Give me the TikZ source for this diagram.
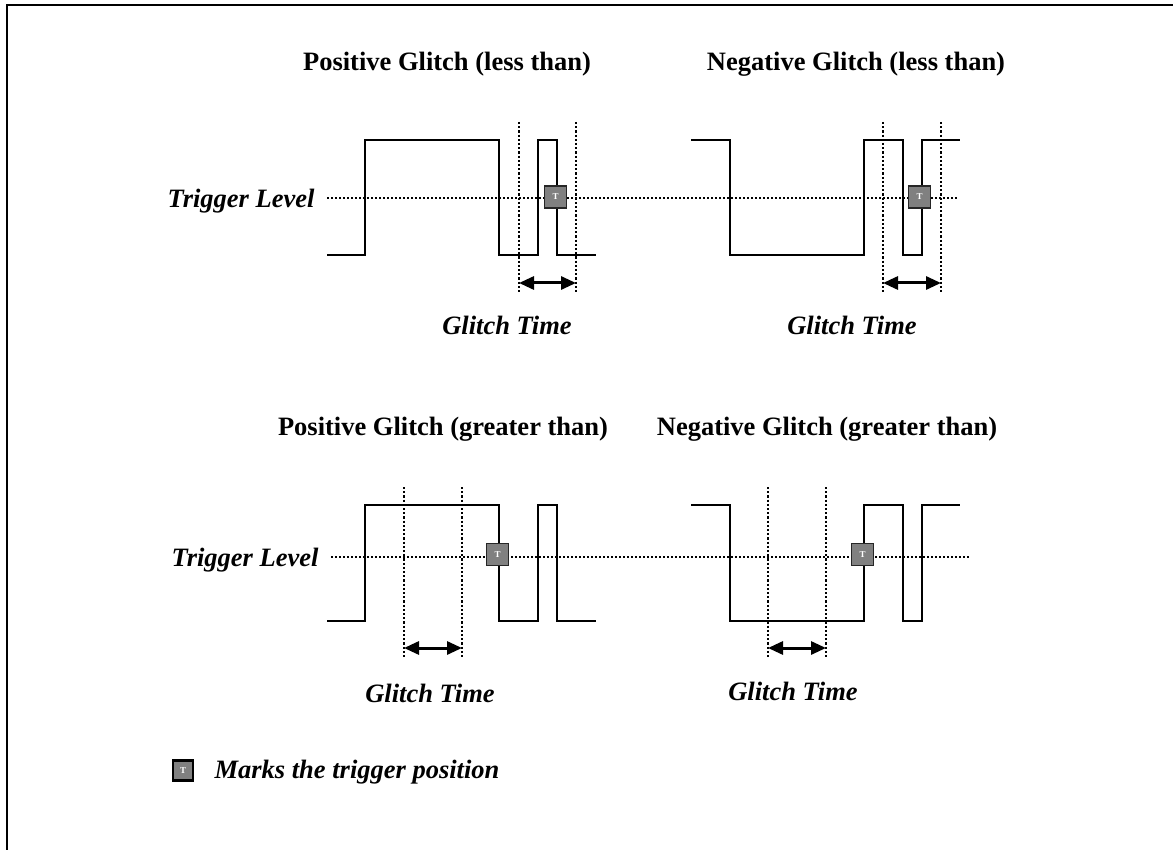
\documentclass[tikz,border=0pt]{standalone}
\usepackage{fontspec}
\setmainfont{Liberation Serif}
\usetikzlibrary{arrows.meta}
\begin{document}
\begin{tikzpicture}[x=1pt,y=-1pt,
  wave/.style={line width=2.2pt,line join=miter},
  level/.style={line width=1.8pt,dash pattern=on 1.8pt off 2.2pt},
  gate/.style={line width=2.2pt,dash pattern=on 2.2pt off 2pt},
  span/.style={line width=3pt,{Triangle[length=15pt,width=13pt]}-{Triangle[length=15pt,width=13pt]}},
  trig/.style={draw=black!85,line width=1.6pt,fill=black!50,minimum size=22pt,inner sep=0pt,
    text=white,font=\fontsize{9}{9}\selectfont\bfseries},
  title/.style={font=\fontsize{26.5}{30}\selectfont\bfseries},
  note/.style={font=\fontsize{26.5}{30}\selectfont\bfseries\itshape}]
\useasboundingbox (0,0) rectangle (1173,850);
\draw[line width=2.5pt] (7,850) -- (7,5) -- (1173,5);
% titles
\node[title] (pl) at (447,64) {Positive Glitch (less than)};
\node[title] (nl) at (856,64) {Negative Glitch (less than)};
\node[title] (pg) at (443,429) {Positive Glitch (greater than)};
\node[title] (ng) at (827,429) {Negative Glitch (greater than)};
% trigger levels
\node[note,anchor=east] (lvl1) at (318,201) {Trigger Level};
\node[note,anchor=east] (lvl2) at (322,560) {Trigger Level};
\coordinate (l1a) at (327,198);
\coordinate (l1b) at (958,198);
\coordinate (l2a) at (331,557);
\coordinate (l2b) at (970,557);
\draw[level] (l1a) -- (l1b);
\draw[level] (l2a) -- (l2b);
% top row waves
\draw[wave] (327,255) -- (365,255) -- (365,140) -- (499,140) -- (499,255) -- (538,255) -- (538,140) -- (557,140) -- (557,255) -- (596,255);
\draw[wave] (691,140) -- (730,140) -- (730,255) -- (864,255) -- (864,140) -- (903,140) -- (903,255) -- (922,255) -- (922,140) -- (960,140);
% bottom row waves
\draw[wave] (327,621) -- (365,621) -- (365,505) -- (499,505) -- (499,621) -- (538,621) -- (538,505) -- (557,505) -- (557,621) -- (596,621);
\draw[wave] (691,505) -- (730,505) -- (730,621) -- (864,621) -- (864,505) -- (903,505) -- (903,621) -- (922,621) -- (922,505) -- (960,505);
% glitch windows
\foreach \xa/\xb/\ya/\yb/\ym/\n in {519/576/122/292/283/a,883/941/122/292/283/b,404/462/487/657/648/c,768/826/487/657/648/d}{
  \draw[gate] (\xa,\ya) -- (\xa,\yb);
  \draw[gate] (\xb,\ya) -- (\xb,\yb);
  \coordinate (s\n1) at (\xa,\ym);
  \coordinate (s\n2) at (\xb,\ym);
  \draw[span] (s\n1) -- (s\n2);
}
\node[note] (gta) at (507,325) {Glitch Time};
\node[note] (gtb) at (852,325) {Glitch Time};
\node[note] (gtc) at (430,693) {Glitch Time};
\node[note] (gtd) at (793,691) {Glitch Time};
% trigger marks
\node[trig] (m1) at (555.5,197) {T};
\node[trig] (m2) at (919.5,197) {T};
\node[trig] (m3) at (497.5,554.5) {T};
\node[trig] (m4) at (862.5,554.5) {T};
% legend
\node[trig,minimum size=20pt,line width=2.2pt,draw=black] (key) at (183,770.5) {T};
\node[note,anchor=west] (keytext) at (211,772) {Marks the trigger position};
\end{tikzpicture}
\end{document}
